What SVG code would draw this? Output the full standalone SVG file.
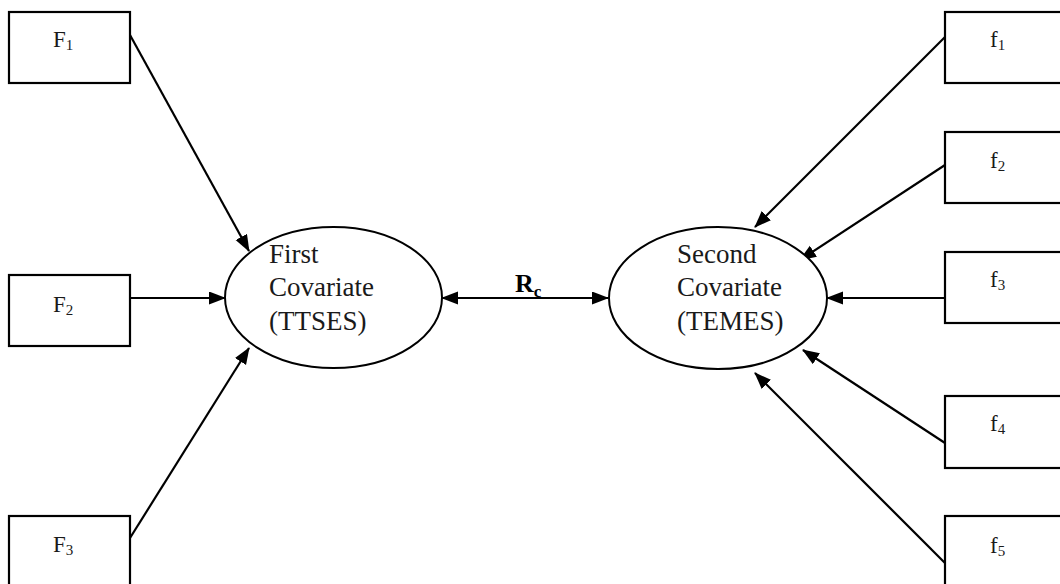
<svg xmlns="http://www.w3.org/2000/svg" width="1060" height="584" viewBox="0 0 1060 584">
  <style>
    .box { fill: #fff; stroke: #000; stroke-width: 2.2; }
    .ell { fill: #fff; stroke: #000; stroke-width: 2; }
    .lbl { font-family: "Liberation Serif", "Times New Roman", serif; font-size: 23px; fill: #1a1a1a; }
    .sub { font-size: 15px; }
    .inner { font-family: "Liberation Serif", "Times New Roman", serif; font-size: 27px; fill: #1a1a1a; }
    .conn { stroke: #000; stroke-width: 2.2; fill: none; marker-end: url(#arrow); }
    .rc { font-family: "Liberation Serif", "Times New Roman", serif; font-weight: bold; fill: #000; }
  </style>
  <defs>
    <marker id="arrow" markerUnits="userSpaceOnUse" markerWidth="18" markerHeight="14" refX="16" refY="6.5" orient="auto-start-reverse">
      <path d="M0,0 L17,6.5 L0,13 z" fill="#000"/>
    </marker>
  </defs>

  <!-- connectors -->
  <g id="connectors">
    <line class="conn" x1="130" y1="35" x2="249" y2="251"/>
    <line class="conn" x1="130" y1="298" x2="225" y2="298"/>
    <line class="conn" x1="130" y1="538" x2="249" y2="348"/>
    <line class="conn" x1="945" y1="37" x2="755" y2="227"/>
    <line class="conn" x1="945" y1="165" x2="800" y2="260"/>
    <line class="conn" x1="945" y1="298" x2="827" y2="298"/>
    <line class="conn" x1="945" y1="443" x2="803" y2="350"/>
    <line class="conn" x1="945" y1="563" x2="755" y2="373"/>
    <line class="conn" x1="442" y1="298" x2="608" y2="298" marker-start="url(#arrow)"/>
  </g>

  <!-- correlation label -->
  <g id="rc-label">
    <text class="rc" x="515" y="292" font-size="26">R<tspan font-size="17" dy="5">c</tspan></text>
  </g>

  <!-- left indicator boxes -->
  <g id="F1">
    <rect class="box" x="9" y="12" width="121" height="71"/>
    <text class="lbl" x="53" y="47">F<tspan class="sub" dy="3">1</tspan></text>
  </g>
  <g id="F2">
    <rect class="box" x="9" y="275" width="121" height="71"/>
    <text class="lbl" x="53" y="312">F<tspan class="sub" dy="3">2</tspan></text>
  </g>
  <g id="F3">
    <rect class="box" x="9" y="516" width="121" height="80"/>
    <text class="lbl" x="53" y="552">F<tspan class="sub" dy="3">3</tspan></text>
  </g>

  <!-- latent covariates -->
  <g id="first-covariate">
    <ellipse class="ell" cx="333.5" cy="297.5" rx="108.5" ry="70.5"/>
    <text class="inner" x="269" y="263">First</text>
    <text class="inner" x="269" y="296">Covariate</text>
    <text class="inner" x="269" y="330">(TTSES)</text>
  </g>
  <g id="second-covariate">
    <ellipse class="ell" cx="718" cy="298" rx="109" ry="71"/>
    <text class="inner" x="677" y="263">Second</text>
    <text class="inner" x="677" y="296">Covariate</text>
    <text class="inner" x="677" y="330">(TEMES)</text>
  </g>

  <!-- right indicator boxes -->
  <g id="f1">
    <rect class="box" x="945" y="12" width="130" height="71"/>
    <text class="lbl" x="990" y="47">f<tspan class="sub" dy="3">1</tspan></text>
  </g>
  <g id="f2">
    <rect class="box" x="945" y="132" width="130" height="71"/>
    <text class="lbl" x="990" y="168">f<tspan class="sub" dy="3">2</tspan></text>
  </g>
  <g id="f3">
    <rect class="box" x="945" y="252" width="130" height="71"/>
    <text class="lbl" x="990" y="287">f<tspan class="sub" dy="3">3</tspan></text>
  </g>
  <g id="f4">
    <rect class="box" x="945" y="396" width="130" height="72"/>
    <text class="lbl" x="990" y="431">f<tspan class="sub" dy="3">4</tspan></text>
  </g>
  <g id="f5">
    <rect class="box" x="945" y="516" width="130" height="80"/>
    <text class="lbl" x="990" y="553">f<tspan class="sub" dy="3">5</tspan></text>
  </g>
</svg>
